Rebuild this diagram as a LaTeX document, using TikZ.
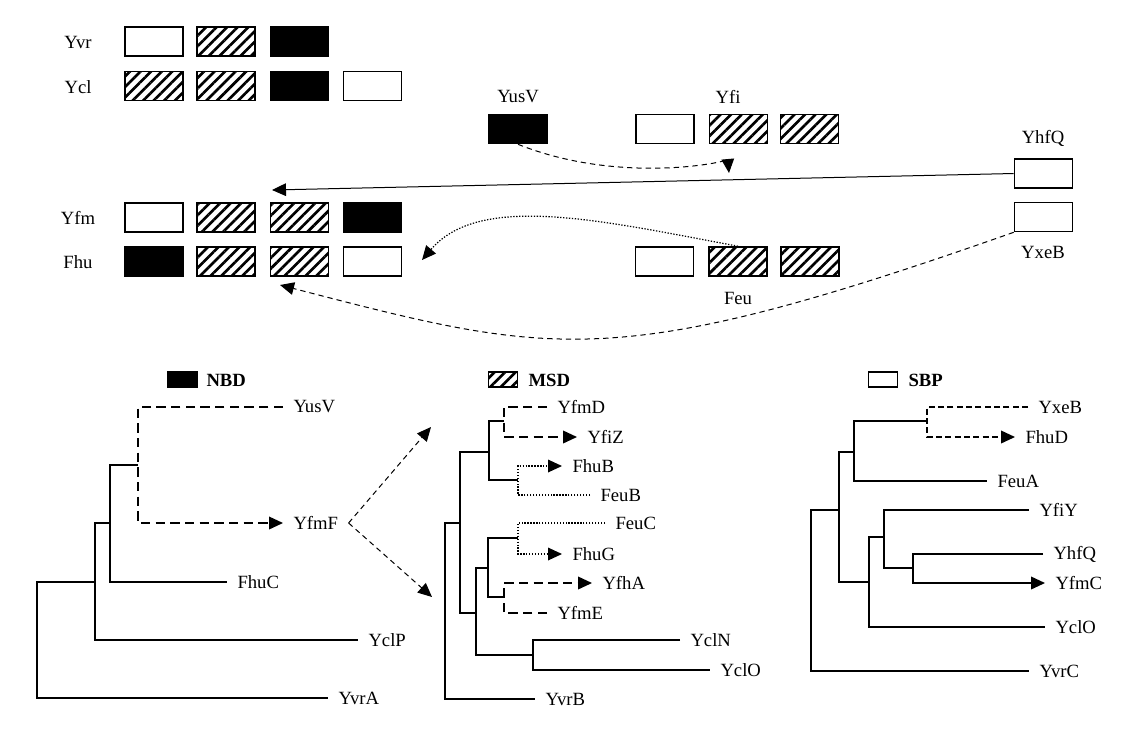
\documentclass[tikz,border=0pt]{standalone}
\usepackage{fontspec}
\setmainfont{Liberation Serif}
\usetikzlibrary{arrows.meta,patterns.meta}

\tikzset{every picture/.style={line width=0.75pt}}

\begin{document}
\begin{tikzpicture}[x=0.75pt,y=0.75pt,yscale=-1,xscale=1,
    dom/.style={draw, line width=1.2pt, minimum width=43.5pt, minimum height=21.75pt, inner sep=0pt},
    nbd/.style={dom, fill=black},
    msd/.style={dom, pattern={Lines[angle=45,distance=5.6pt,line width=2pt]}},
    sbp/.style={dom, fill=white},
    key/.style={draw, line width=1.2pt, minimum width=21.75pt, minimum height=11.25pt, inner sep=0pt},
    txt/.style={font=\fontsize{14}{16}\selectfont, inner sep=0.75pt},
    leaf/.style={txt, anchor=west, inner xsep=7.5pt},
    tree/.style={line width=1.2pt},
    tip/.style={-{Triangle[length=10.5pt,width=9.5pt]}},
    dsh/.style={dash pattern=on 7pt off 4pt},
    dsh2/.style={dash pattern=on 4.5pt off 2.5pt},
    fine/.style={dash pattern=on 4pt off 3pt},
    dot/.style={line width=0.9pt, dash pattern=on 1pt off 1.2pt},
  ]
  \useasboundingbox (0,0) rectangle (1138,740);

  %Row labels
  \node[txt] (yvrT) at (78,42) {Yvr};
  \node[txt] (yclT) at (78,87) {Ycl};
  \node[txt] (yfmT) at (78,218) {Yfm};
  \node[txt] (fhuT) at (78,262) {Fhu};
  \node[txt] (yusvT) at (518,97) {YusV};
  \node[txt] (yfiT) at (728,97) {Yfi};
  \node[txt] (yhfqT) at (1043,138) {YhfQ};
  \node[txt] (yxebT) at (1043,252) {YxeB};
  \node[txt] (feuT) at (738,298) {Feu};

  %Shape: Rectangle rows Yvr, Ycl
  \node[sbp] (yvr1) at (154,41.5) {};
  \node[msd] (yvr2) at (226,41.5) {};
  \node[nbd] (yvr3) at (299.5,41.5) {};
  \node[msd] (ycl1) at (154,86) {};
  \node[msd] (ycl2) at (226,86) {};
  \node[nbd] (ycl3) at (299.5,86) {};
  \node[sbp] (ycl4) at (372.5,86) {};

  %Shape: Rectangle YusV, Yfi
  \node[nbd] (yusv) at (518,129) {};
  \node[sbp] (yfi1) at (665,129) {};
  \node[msd] (yfi2) at (738.5,129) {};
  \node[msd] (yfi3) at (809.5,129) {};

  %Shape: Rectangle rows Yfm, Fhu
  \node[sbp] (yfm1) at (154,217.5) {};
  \node[msd] (yfm2) at (226,217.5) {};
  \node[msd] (yfm3) at (299.5,217.5) {};
  \node[nbd] (yfm4) at (372.5,217.5) {};
  \node[nbd] (fhu1) at (154,261.5) {};
  \node[msd] (fhu2) at (226,261.5) {};
  \node[msd] (fhu3) at (299.5,261.5) {};
  \node[sbp] (fhu4) at (372.5,261.5) {};

  %Shape: Rectangle YhfQ, YxeB, Feu
  \node[sbp] (yhfq) at (1043.5,173.5) {};
  \node[sbp] (yxeb) at (1043.5,217) {};
  \node[sbp] (feu1) at (664.5,261.5) {};
  \node[msd] (feu2) at (738,261.5) {};
  \node[msd] (feu3) at (810,261.5) {};

  %Straight Lines
  \coordinate (hfqEnd) at (272,190);
  \draw[tip] (yhfq.west) -- (hfqEnd);
  %Curve Lines
  \coordinate (usvEnd) at (729,173);
  \draw[fine,tip] (yusv.south) .. controls (620,185) and (728,162) .. (usvEnd);
  \coordinate (feuEnd) at (422,260);
  \draw[dot,tip] (feu2.north) .. controls (603,221) and (480,192) .. (feuEnd);
  \coordinate (xebEnd) at (280,285);
  \draw[fine,tip] (yxeb.south west) .. controls (614,373) and (554,356) .. (xebEnd);

  %Legend
  \node[key, fill=black] (nbdKey) at (182.5,379.5) {};
  \node[txt, anchor=west] (nbdT) at (205,380) {\bfseries NBD};
  \node[key, pattern={Lines[angle=45,distance=5.6pt,line width=2pt]}] (msdKey) at (503,379.5) {};
  \node[txt, anchor=west] (msdT) at (527,380) {\bfseries MSD};
  \node[key, fill=white] (sbpKey) at (883,379.5) {};
  \node[txt, anchor=west] (sbpT) at (907,380) {\bfseries SBP};

  %Tree NBD
  \node[leaf] (nYusV) at (283,407) {YusV};
  \node[leaf] (nYfmF) at (283,523) {YfmF};
  \node[leaf] (nFhuC) at (227,582) {FhuC};
  \node[leaf] (nYclP) at (358,640) {YclP};
  \node[leaf] (nYvrA) at (328,698) {YvrA};
  \coordinate (nA) at (138,465);
  \coordinate (nB) at (110,523);
  \coordinate (nC) at (95,582);
  \coordinate (nD) at (37,640);
  \draw[tree,dsh,tip] (nYusV.west) -| (nA) |- (nYfmF.west);
  \draw[tree] (nA) -| (nB) |- (nFhuC.west);
  \draw[tree] (nB) -| (nC) |- (nYclP.west);
  \draw[tree] (nC) -| (nD) |- (nYvrA.west);
  \coordinate (msdUp) at (431,427);
  \coordinate (msdDown) at (432,597);
  \draw[fine,tip] (nYfmF.east) -- (msdUp);
  \draw[fine,tip] (nYfmF.east) -- (msdDown);

  %Tree MSD
  \node[leaf] (mYfmD) at (547,407) {YfmD};
  \node[leaf] (mYfiZ) at (577,437) {YfiZ};
  \node[leaf] (mFhuB) at (562,466) {FhuB};
  \node[leaf] (mFeuB) at (590,495) {FeuB};
  \node[leaf] (mFeuC) at (605,523) {FeuC};
  \node[leaf] (mFhuG) at (562,554) {FhuG};
  \node[leaf] (mYfhA) at (592,583) {YfhA};
  \node[leaf] (mYfmE) at (547,613) {YfmE};
  \node[leaf] (mYclN) at (680,640) {YclN};
  \node[leaf] (mYclO) at (710,670) {YclO};
  \node[leaf] (mYvrB) at (535,699) {YvrB};
  \coordinate (m1) at (504,421);
  \coordinate (m2) at (518,480);
  \coordinate (m3) at (489,452);
  \coordinate (m4) at (518,538);
  \coordinate (m5) at (504,597);
  \coordinate (m6) at (488,568);
  \coordinate (m7) at (533,655);
  \coordinate (m8) at (476,613);
  \coordinate (m9) at (460,523);
  \coordinate (m10) at (445,610);
  \draw[tree,dsh,tip] (mYfmD.west) -| (m1) |- (mYfiZ.west);
  \draw[tree,dot,tip] (mFeuB.west) -| (m2) |- (mFhuB.west);
  \draw[tree] (m1) -| (m3) |- (m2);
  \draw[tree,dot,tip] (mFeuC.west) -| (m4) |- (mFhuG.west);
  \draw[tree,dsh,tip] (mYfmE.west) -| (m5) |- (mYfhA.west);
  \draw[tree] (m4) -| (m6) |- (m5);
  \draw[tree] (mYclN.west) -| (m7) |- (mYclO.west);
  \draw[tree] (m6) -| (m8) |- (m7);
  \draw[tree] (m3) -| (m9) |- (m8);
  \draw[tree] (m9) -| (m10) |- (mYvrB.west);

  %Tree SBP
  \node[leaf] (sYxeB) at (1028,407) {YxeB};
  \node[leaf] (sFhuD) at (1015,437) {FhuD};
  \node[leaf] (sFeuA) at (987,481) {FeuA};
  \node[leaf] (sYfiY) at (1029,510) {YfiY};
  \node[leaf] (sYhfQ) at (1043,554) {YhfQ};
  \node[leaf] (sYfmC) at (1045,583) {YfmC};
  \node[leaf] (sYclO) at (1045,627) {YclO};
  \node[leaf] (sYvrC) at (1029,671) {YvrC};
  \coordinate (r1) at (927,421);
  \coordinate (r2) at (854,452);
  \coordinate (r3) at (913,568);
  \coordinate (r4) at (884,537);
  \coordinate (r5) at (869,582);
  \coordinate (r6) at (839,510);
  \coordinate (r7) at (811,600);
  \draw[tree,dsh2,tip] (sYxeB.west) -| (r1) |- (sFhuD.west);
  \draw[tree] (r1) -| (r2) |- (sFeuA.west);
  \draw[tree,tip] (sYhfQ.west) -| (r3) |- (sYfmC.west);
  \draw[tree] (sYfiY.west) -| (r4) |- (r3);
  \draw[tree] (r4) -| (r5) |- (sYclO.west);
  \draw[tree] (r2) -| (r6) |- (r5);
  \draw[tree] (r6) -| (r7) |- (sYvrC.west);

\end{tikzpicture}
\end{document}
